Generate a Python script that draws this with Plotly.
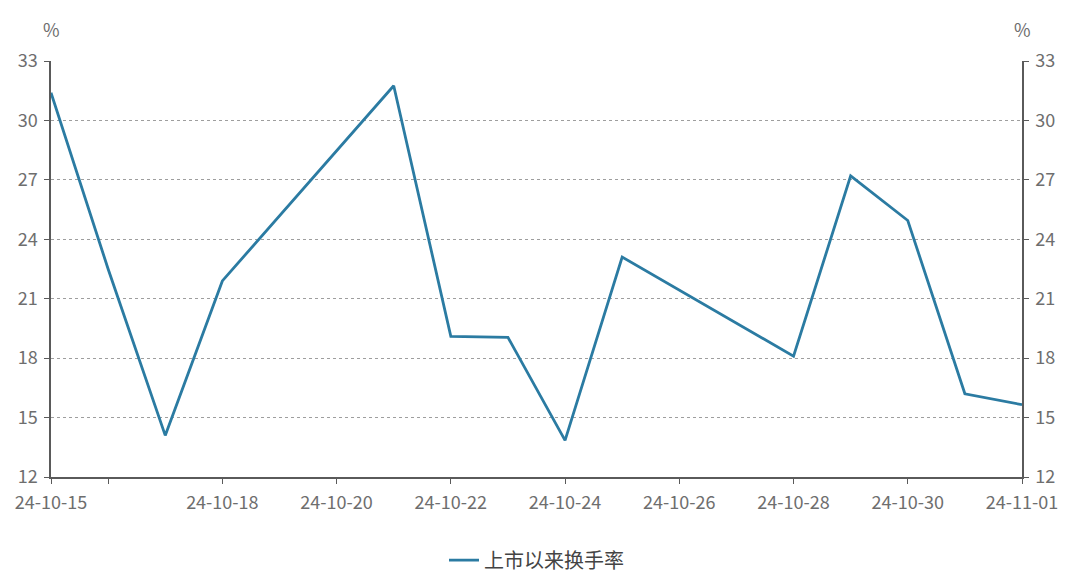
import plotly.graph_objects as go

dates = ["2024-10-15", "2024-10-16", "2024-10-17", "2024-10-18", "2024-10-21",
         "2024-10-22", "2024-10-23", "2024-10-24", "2024-10-25", "2024-10-28",
         "2024-10-29", "2024-10-30", "2024-10-31", "2024-11-01"]
turnover = [31.4, 22.5, 14.1, 21.9, 31.75, 19.1, 19.05, 13.85, 23.1, 18.1,
            27.2, 24.95, 16.2, 15.65]
series_name = "上市以来换手率"

tick_dates = ["2024-10-15", "2024-10-16", "2024-10-18", "2024-10-20", "2024-10-22",
              "2024-10-24", "2024-10-26", "2024-10-28", "2024-10-30", "2024-11-01"]
tick_labels = ["24-10-15", "", "24-10-18", "24-10-20", "24-10-22",
               "24-10-24", "24-10-26", "24-10-28", "24-10-30", "24-11-01"]
y_ticks = [12, 15, 18, 21, 24, 27, 30, 33]

LINE = "#2B7BA2"
TXT = "#6E6E6E"
AX = "#5A5A5A"
FONT = "Noto Sans CJK SC, Noto Sans, sans-serif"

fig = go.Figure()
fig.add_trace(go.Scatter(x=dates, y=turnover, mode="lines", name=series_name,
                         line=dict(color=LINE, width=2.8)))
fig.add_trace(go.Scatter(x=dates, y=turnover, mode="lines", yaxis="y2",
                         line=dict(color="rgba(0,0,0,0)", width=0),
                         showlegend=False, hoverinfo="skip"))

yax = dict(range=[12, 33], tickvals=y_ticks, showline=True, linecolor=AX, linewidth=1.5,
           ticks="outside", ticklen=5, tickcolor=AX, zeroline=False, automargin=False,
           ticklabelstandoff=3,
           tickfont=dict(size=18, color=TXT, family=FONT))
fig.update_layout(
    width=1080, height=584,
    margin=dict(l=43, r=66, t=53, b=103),
    plot_bgcolor="white", paper_bgcolor="white",
    xaxis=dict(type="date", range=["2024-10-15", "2024-11-01"], tickvals=tick_dates,
               ticktext=tick_labels, showline=True, linecolor=AX, linewidth=1.5,
               ticks="outside", ticklen=5, tickcolor=AX, showgrid=False, automargin=False,
               ticklabelstandoff=4,
               tickfont=dict(size=18, color=TXT, family=FONT)),
    yaxis=dict(**yax, showgrid=True, gridcolor="#9E9E9E", griddash="dot", gridwidth=1),
    yaxis2=dict(**yax, overlaying="y", side="right", showgrid=False),
    legend=dict(orientation="h", x=0.5, xanchor="center", y=-0.2, yanchor="middle",
                font=dict(size=20, color="#444444", family=FONT)),
    annotations=[
        dict(text="%", x=0, y=1, xref="paper", yref="paper", xanchor="center", yanchor="bottom",
             yshift=17, showarrow=False, font=dict(size=18, color=TXT, family=FONT)),
        dict(text="%", x=1, y=1, xref="paper", yref="paper", xanchor="center", yanchor="bottom",
             yshift=17, showarrow=False, font=dict(size=18, color=TXT, family=FONT)),
    ],
)
fig.write_html("out.html")
